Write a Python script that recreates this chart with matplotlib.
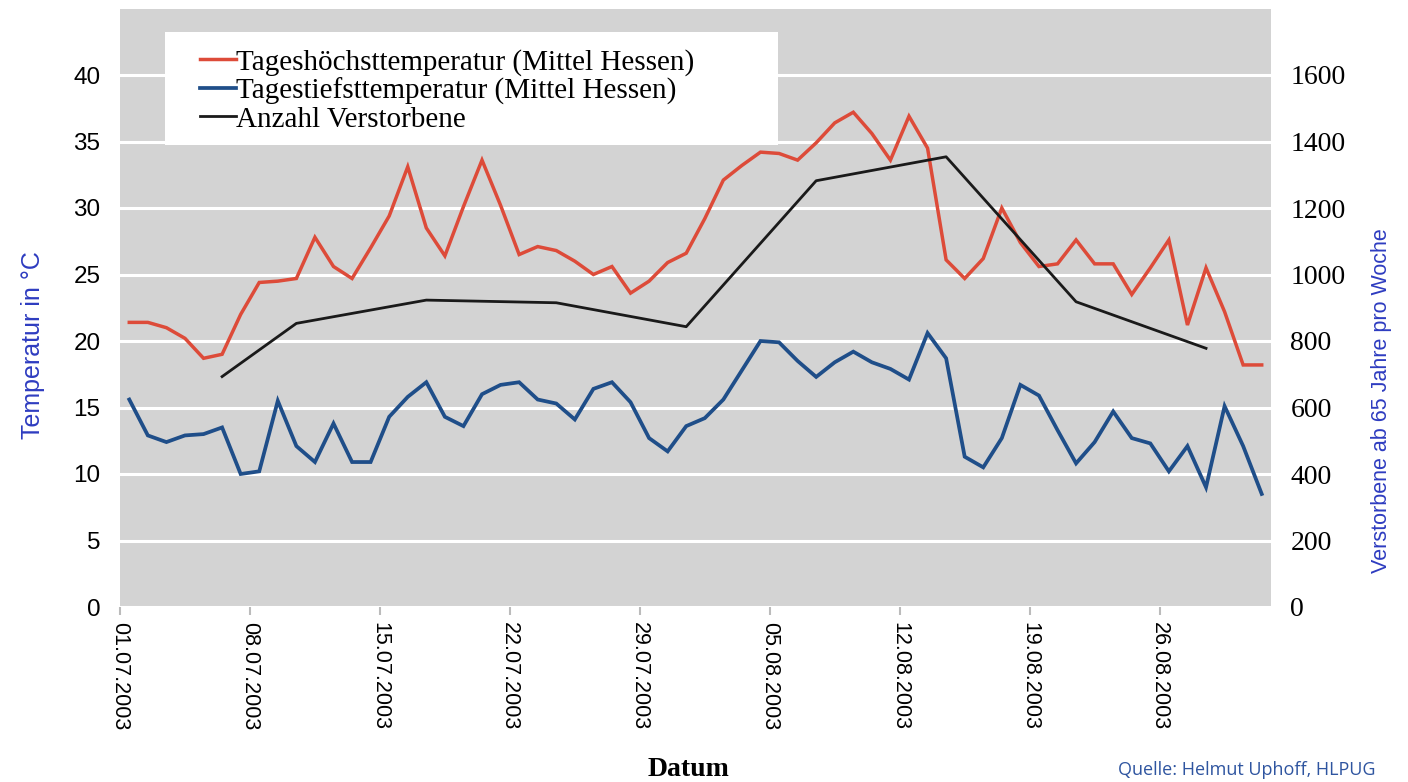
import numpy as np
import pandas as pd
import matplotlib
matplotlib.use("Agg")
import matplotlib.pyplot as plt
from matplotlib.patches import Rectangle

# Tageswerte 01.07.2003 - 31.08.2003
datum = pd.date_range("2003-07-01", "2003-08-31")

t_max = [21.4, 21.4, 21.0, 20.2, 18.7, 19.0, 22.0, 24.4, 24.5, 24.7,
         27.8, 25.6, 24.7, 27.0, 29.4, 33.1, 28.5, 26.4, 30.1, 33.6,
         30.2, 26.5, 27.1, 26.8, 26.0, 25.0, 25.6, 23.6, 24.5, 25.9,
         26.6, 29.2, 32.1, 33.2, 34.2, 34.1, 33.6, 34.9, 36.4, 37.2,
         35.6, 33.6, 36.9, 34.5, 26.1, 24.7, 26.2, 30.0, 27.4, 25.6,
         25.8, 27.6, 25.8, 25.8, 23.5, 25.5, 27.6, 21.2, 25.5, 22.2,
         18.2, 18.2]

t_min = [15.6, 12.9, 12.4, 12.9, 13.0, 13.5, 10.0, 10.2, 15.5, 12.1,
         10.9, 13.8, 10.9, 10.9, 14.3, 15.8, 16.9, 14.3, 13.6, 16.0,
         16.7, 16.9, 15.6, 15.3, 14.1, 16.4, 16.9, 15.4, 12.7, 11.7,
         13.6, 14.2, 15.6, 17.8, 20.0, 19.9, 18.5, 17.3, 18.4, 19.2,
         18.4, 17.9, 17.1, 20.6, 18.7, 11.3, 10.5, 12.7, 16.7, 15.9,
         13.3, 10.8, 12.4, 14.7, 12.7, 12.3, 10.2, 12.1, 9.0, 15.1,
         12.1, 8.5]

# Wochenwerte Verstorbene (Tag-Index ab 01.07.)
tote_tag = [5, 9, 16, 23, 30, 37, 44, 51, 58]
tote = [693, 853, 923, 915, 843, 1282, 1354, 918, 778]

tick_tage = [0, 7, 14, 21, 28, 35, 42, 49, 56]
tick_labels = ["01.07.2003", "08.07.2003", "15.07.2003", "22.07.2003",
               "29.07.2003", "05.08.2003", "12.08.2003", "19.08.2003",
               "26.08.2003"]

x = np.arange(len(datum)) + 0.5
x_tote = np.array(tote_tag) + 0.5

W, H = 1408, 782
fig = plt.figure(figsize=(W / 100, H / 100), dpi=100)
ax = fig.add_axes([120/W, 1 - 607/H, (1271-120)/W, (607-8.5)/H])
ax.set_facecolor("#D3D3D3")
for s in ax.spines.values():
    s.set_visible(False)

ax.set_xlim(0, 62)
ax.set_ylim(0, 45)
ax.set_yticks(range(0, 45, 5))
ax.yaxis.grid(True, color="white", lw=2.2)
ax.set_axisbelow(True)

l1, = ax.plot(x, t_max, color="#DD4B39", lw=2.5, solid_joinstyle="miter",
              label="Tageshöchsttemperatur (Mittel Hessen)")
l2, = ax.plot(x, t_min, color="#1F4E89", lw=2.7, solid_joinstyle="miter",
              label="Tagestiefsttemperatur (Mittel Hessen)")

ax.set_xticks(tick_tage)
ax.set_xticklabels(tick_labels, rotation=-90, fontsize=15.5,
                   family="Liberation Sans", va="top", ha="center")
ax.tick_params(axis="x", length=6, color="#BBBBBB", width=1.5, pad=5)
ax.tick_params(axis="y", length=0, pad=14)
for lab in ax.get_yticklabels():
    lab.set_family("Liberation Sans")
    lab.set_fontsize(17.5)

ax2 = ax.twinx()
for s in ax2.spines.values():
    s.set_visible(False)
ax2.set_ylim(0, 1800)
ax2.set_yticks(range(0, 1800, 200))
ax2.tick_params(axis="y", length=0, pad=14)
for lab in ax2.get_yticklabels():
    lab.set_family("Liberation Serif")
    lab.set_fontsize(20)
l3, = ax2.plot(x_tote, tote, color="#1A1A1A", lw=2.0,
               label="Anzahl Verstorbene")

# weisser Legendenkasten
fig.patches.append(Rectangle((165/W, 1 - 145/H), (778-165)/W, (145-32)/H,
                             transform=fig.transFigure, facecolor="white",
                             edgecolor="none", zorder=1))
fig.legend(handles=[l1, l2, l3], loc="upper left",
           bbox_to_anchor=(200/W, 1 - 49/H),
           prop={"family": "Liberation Serif", "size": 21},
           frameon=False, handlelength=1.25, handletextpad=0.0,
           labelspacing=0.05, borderpad=0, borderaxespad=0)

fig.text(33/W, 1 - 345/H, "Temperatur in °C", rotation=90,
         color="#2E3CC0", fontsize=18, family="Liberation Sans",
         ha="center", va="center")
fig.text(1382/W, 1 - 401/H, "Verstorbene ab 65 Jahre pro Woche",
         rotation=90, color="#2E3CC0", fontsize=15.5,
         family="Liberation Sans", ha="center", va="center")
fig.text(688/W, 1 - 770/H, "Datum", fontsize=20, fontweight="bold",
         family="Liberation Serif", ha="center", va="center")
fig.text(1118/W, 7/H, "Quelle: Helmut Uphoff, HLPUG",
         color="#2F55A0", fontsize=13, family="Open Sans",
         ha="left", va="baseline")

fig.savefig("out.png", dpi=100)
